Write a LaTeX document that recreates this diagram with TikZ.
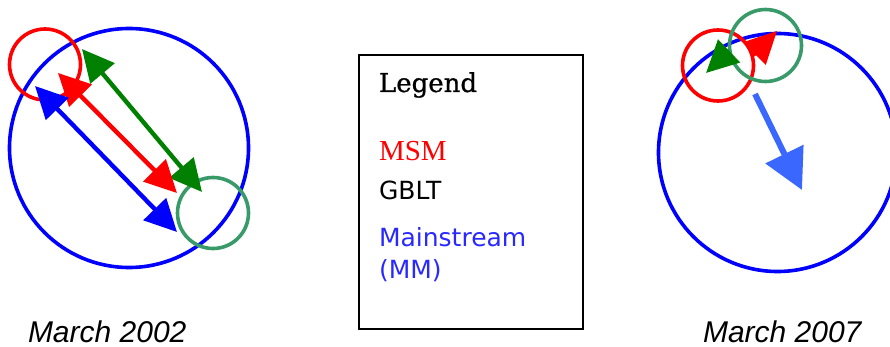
\documentclass[tikz,border=0pt]{standalone}
\usepackage{fontspec}
\setmainfont{Liberation Serif}
\newfontfamily\legendfont[FakeBold=0.8]{DejaVu Serif}
\newfontfamily\itemfont{DejaVu Sans}
\newfontfamily\datefont{Liberation Sans}
\usetikzlibrary{arrows.meta}
\definecolor{msmred}{RGB}{255,0,0}
\definecolor{gbltgreen}{RGB}{0,128,0}
\definecolor{ringgreen}{RGB}{56,154,104}
\definecolor{mmblue}{RGB}{0,0,255}
\definecolor{shiftblue}{RGB}{58,104,255}
\definecolor{textblue}{RGB}{40,40,255}
\tikzset{
  ring/.style={circle, draw=#1, line width=3.6pt, inner sep=0pt, outer sep=0pt},
  headtip/.tip={Triangle[length=32pt,width=31pt]},
  bigtip/.style={-headtip},
  dbltip/.style={headtip-headtip},
  gap/.style={line width=4.4pt},
  txt/.style={anchor=base west, inner sep=0pt, outer sep=0pt},
}
\begin{document}
\begin{tikzpicture}[x=1pt,y=-1pt]
  \useasboundingbox (0,0) rectangle (890,347);
  \clip (0,0) rectangle (890,347);

  % ---- March 2002 ----
  \node (bigA) [ring=mmblue, minimum size=239pt] at (129,148) {};
  \node (msmA) [ring=msmred, minimum size=71pt] at (45,64.5) {};
  \node (gbltA) [ring=ringgreen, minimum size=71pt] at (213,213) {};

  \coordinate (gA1) at (82,49);   \coordinate (gA2) at (202,192);
  \coordinate (rA1) at (58,73);   \coordinate (rA2) at (177,193);
  \coordinate (bA1) at (35,86);   \coordinate (bA2) at (177,232);
  \draw[gap, gbltgreen, dbltip] (gA1) -- (gA2);
  \draw[gap, msmred, dbltip] (rA1) -- (rA2);
  \draw[gap, mmblue, dbltip] (bA1) -- (bA2);

  \node (dateA) [txt, font=\datefont\itshape\fontsize{30}{32}\selectfont] at (28,342) {March 2002};

  % ---- Legend ----
  \node (legbox) [draw=black, line width=1.6pt, minimum width=224pt, minimum height=274pt,
        inner sep=0pt, anchor=north west] at (358,54) {};
  \node (legtitle) [txt, font=\legendfont\fontsize{26}{28}\selectfont] at (379,92) {Legend};
  \node (legmsm) [txt, text=msmred, font=\fontsize{29}{31}\selectfont] at (379,161) {MSM};
  \node (leggblt) [txt, font=\itemfont\fontsize{25}{28}\selectfont] at (379,200) {GBLT};
  \node (legmm) [txt, text=textblue, font=\itemfont\fontsize{25}{28}\selectfont] at (379,246) {Mainstream};
  \node (legmm2) [txt, text=textblue, font=\itemfont\fontsize{25}{28}\selectfont] at (379,278) {(MM)};

  % ---- March 2007 ----
  \node (bigB) [ring=mmblue, minimum size=238pt] at (777.5,152.5) {};
  \node (msmB) [ring=msmred, minimum size=71pt] at (718,65.5) {};
  \node (gbltB) [ring=ringgreen, minimum size=72pt] at (765.5,45.5) {};

  \coordinate (gB1) at (729,51);  \coordinate (gB2) at (706,73);
  \coordinate (rB1) at (753,55);  \coordinate (rB2) at (777,31);
  \draw[gap, gbltgreen, bigtip] (gB1) -- (gB2);
  \draw[gap, msmred, bigtip] (rB1) -- (rB2);

  \coordinate (sB1) at (755,94);  \coordinate (sB2) at (802,190);
  \draw[line width=6pt, shiftblue, -{Triangle[length=40pt,width=41pt]}] (sB1) -- (sB2);

  \node (dateB) [txt, font=\datefont\itshape\fontsize{30}{32}\selectfont] at (703,342) {March 2007};
\end{tikzpicture}
\end{document}
